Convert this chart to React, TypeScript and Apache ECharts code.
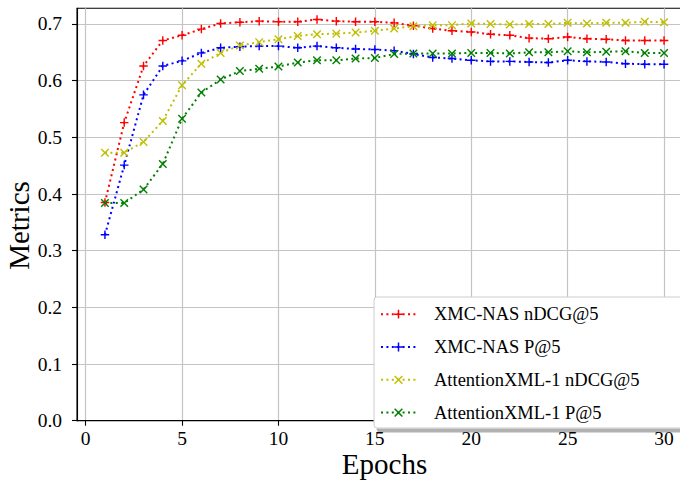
import React, { useEffect, useRef } from 'react';
import * as echarts from 'echarts';

const epochs = [1, 2, 3, 4, 5, 6, 7, 8, 9, 10, 11, 12, 13, 14, 15, 16, 17, 18, 19, 20, 21, 22, 23, 24, 25, 26, 27, 28, 29, 30];

const xmcNasNdcg = [0.385, 0.526, 0.626, 0.671, 0.680, 0.691, 0.701, 0.703, 0.705, 0.704, 0.704, 0.708, 0.705, 0.704, 0.704, 0.702, 0.697, 0.692, 0.688, 0.686, 0.682, 0.680, 0.675, 0.674, 0.677, 0.674, 0.673, 0.671, 0.671, 0.671];
const xmcNasP = [0.328, 0.451, 0.575, 0.626, 0.635, 0.649, 0.658, 0.660, 0.661, 0.661, 0.658, 0.661, 0.658, 0.656, 0.655, 0.653, 0.647, 0.641, 0.639, 0.636, 0.634, 0.634, 0.633, 0.632, 0.636, 0.634, 0.633, 0.630, 0.629, 0.629];
const attNdcg = [0.473, 0.473, 0.492, 0.529, 0.592, 0.630, 0.649, 0.662, 0.668, 0.673, 0.679, 0.682, 0.683, 0.685, 0.688, 0.692, 0.696, 0.698, 0.698, 0.701, 0.700, 0.699, 0.700, 0.700, 0.702, 0.701, 0.702, 0.702, 0.704, 0.703];
const attP = [0.384, 0.384, 0.408, 0.453, 0.533, 0.579, 0.602, 0.617, 0.621, 0.625, 0.632, 0.636, 0.636, 0.639, 0.640, 0.647, 0.648, 0.648, 0.648, 0.649, 0.649, 0.648, 0.650, 0.650, 0.652, 0.650, 0.651, 0.652, 0.649, 0.649];

const seriesNames = ['XMC-NAS nDCG@5', 'XMC-NAS P@5', 'AttentionXML-1 nDCG@5', 'AttentionXML-1 P@5'];
const xTicks = [0, 5, 10, 15, 20, 25, 30];
const yTicks = [0, 0.1, 0.2, 0.3, 0.4, 0.5, 0.6, 0.7];

const PLUS = 'path://M-1,-6L1,-6L1,-1L6,-1L6,1L1,1L1,6L-1,6L-1,1L-6,1L-6,-1L-1,-1Z';
const CROSS = 'path://M-6,-4.6L-4.6,-6L0,-1.4L4.6,-6L6,-4.6L1.4,0L6,4.6L4.6,6L0,1.4L-4.6,6L-6,4.6L-1.4,0Z';

const FONT = '"Liberation Serif", "DejaVu Serif", serif';

export default function App() {
  const ref = useRef<HTMLDivElement>(null);
  useEffect(() => {
    if (!ref.current) return;
    const chart = echarts.init(ref.current, undefined, { renderer: 'svg' });
    const mk = (name: string, vals: number[], color: string, symbol: string) => ({
      name,
      type: 'line',
      data: epochs.map((e, i) => [e, vals[i]]),
      symbol,
      symbolSize: 8.5,
      showAllSymbol: true,
      itemStyle: { color },
      lineStyle: { color, width: 2, type: [2, 3.4], cap: 'butt' },
      emphasis: { disabled: true },
    });
    chart.setOption({
      animation: false,
      backgroundColor: '#ffffff',
      textStyle: { fontFamily: FONT },
      grid: {
        left: 77,
        right: 8,
        top: 8.3,
        bottom: 60.3,
        outerBoundsMode: 'none',
        containLabel: false,
        show: true,
        borderColor: '#000000',
        borderWidth: 1.1,
        backgroundColor: '#ffffff',
      },
      xAxis: {
        type: 'value',
        min: -0.45,
        max: 31.45,
        name: 'Epochs',
        nameLocation: 'middle',
        nameGap: 29,
        nameMoveOverlap: false,
        nameTextStyle: { fontFamily: FONT, fontSize: 29, lineHeight: 29, color: '#000' },
        axisLine: { show: true, onZero: false, lineStyle: { color: '#000', width: 1.1 } },
        axisTick: { show: true, inside: false, length: 5, customValues: xTicks, lineStyle: { color: '#000', width: 1.1 } },
        axisLabel: { customValues: xTicks, fontFamily: FONT, fontSize: 19.5, color: '#000', margin: 8 },
        splitLine: { show: true, lineStyle: { color: '#c4c4c4', width: 1.2 } },
      },
      yAxis: {
        type: 'value',
        min: 0,
        max: 0.7277,
        name: 'Metrics',
        nameLocation: 'middle',
        nameGap: 44,
        nameRotate: 90,
        nameMoveOverlap: false,
        nameTextStyle: { fontFamily: FONT, fontSize: 29, lineHeight: 29, color: '#000', padding: [0, 22, 0, 0] },
        axisLine: { show: true, onZero: false, lineStyle: { color: '#000', width: 1.1 } },
        axisTick: { show: true, inside: false, length: 5, customValues: yTicks, lineStyle: { color: '#000', width: 1.1 } },
        axisLabel: {
          customValues: yTicks,
          formatter: (v: number) => v.toFixed(1),
          fontFamily: FONT,
          fontSize: 19.5,
          color: '#000',
          margin: 15,
        },
        splitLine: { show: true, lineStyle: { color: '#c4c4c4', width: 1.2 } },
      },
      legend: {
        data: seriesNames,
        orient: 'vertical',
        left: 374,
        top: 297,
        itemWidth: 35,
        itemHeight: 11,
        itemGap: 13.8,
        padding: [7.7, 43, 5.9, 6],
        backgroundColor: '#ffffff',
        borderColor: '#cccccc',
        borderWidth: 1,
        borderRadius: 3,
        shadowColor: 'rgba(0,0,0,0.3)',
        shadowBlur: 0,
        shadowOffsetX: 3,
        shadowOffsetY: 4,
        textStyle: { fontFamily: FONT, fontSize: 18.5, color: '#000', lineHeight: 14, padding: [0, 0, 0, 13] },
      },
      series: [
        mk(seriesNames[0], xmcNasNdcg, '#ff0000', PLUS),
        mk(seriesNames[1], xmcNasP, '#0000ff', PLUS),
        mk(seriesNames[2], attNdcg, '#bfbf00', CROSS),
        mk(seriesNames[3], attP, '#008000', CROSS),
      ],
    });
    return () => chart.dispose();
  }, []);
  return (
    <div style={{ position: 'fixed', left: 0, top: 0, width: 680, height: 481, overflow: 'hidden', background: '#fff' }}>
      <div ref={ref} style={{ width: 700, height: 481 }} />
    </div>
  );
}
